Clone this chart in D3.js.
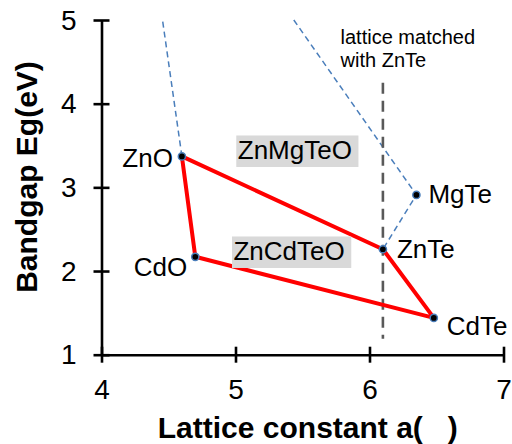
<!DOCTYPE html>
<html>
<head>
<meta charset="utf-8">
<script src="https://cdn.jsdelivr.net/npm/d3@7"></script>
<style>
  html, body { margin: 0; padding: 0; background: #fff; }
  svg { display: block; font-family: "Liberation Sans", Arial, sans-serif; }
</style>
</head>
<body>
<svg id="chart" width="512" height="444"></svg>
<script>
// Binary end-point compounds: lattice constant a (Å) and bandgap Eg (eV)
const compounds = ["ZnO", "CdO", "CdTe", "ZnTe", "MgTe"];
const latticeA  = [4.60, 4.70, 6.48, 6.10, 6.35];
const bandgap   = [3.37, 2.17, 1.44, 2.26, 2.91];

// Quaternary region outline (closed polygon through the binaries)
const outlineOrder = ["ZnO", "CdO", "CdTe", "ZnTe", "ZnO"];

// Dashed guide lines
const guideOneA  = [4.457, 4.60];
const guideOneEg = [4.98, 3.37];
const guideTwoA  = [5.435, 6.35, 6.10];
const guideTwoEg = [5.00, 2.91, 2.26];

// Lattice-matched line at ZnTe
const matchA = 6.10;
const matchEgRange = [4.25, 1.19];

// Tick values
const xTicks = [4, 5, 6, 7];
const yTicks = [1, 2, 3, 4, 5];

// Region labels
const regionNames = ["ZnMgTeO", "ZnCdTeO"];
const regionA     = [5.017, 4.985];
const regionEg    = [3.339, 2.132];

const svg = d3.select("#chart");
const x = d3.scaleLinear().domain([4, 7]).range([101.5, 503.5]);
const y = d3.scaleLinear().domain([1, 5]).range([354.7, 20]);

const pts = compounds.map((c, i) => ({ name: c, a: latticeA[i], eg: bandgap[i] }));
const byName = Object.fromEntries(pts.map(p => [p.name, p]));

// Axes with ticks crossing the axis line
const gx = svg.append("g").attr("transform", `translate(0,${y(1)})`)
  .call(d3.axisBottom(x).tickValues(xTicks).tickFormat(d3.format("d")).tickSize(0));
const gy = svg.append("g").attr("transform", `translate(${x(4)},0)`)
  .call(d3.axisLeft(y).tickValues(yTicks).tickFormat(d3.format("d")).tickSize(0));

[gx, gy].forEach(g => {
  g.select(".domain").attr("stroke", "#000").attr("stroke-width", 2.6);
  g.selectAll(".tick text").attr("fill", "#000").attr("font-size", 28)
    .attr("font-family", "Liberation Sans, Arial, sans-serif");
});
gx.selectAll(".tick line").attr("y1", -8).attr("y2", 8).attr("stroke", "#000").attr("stroke-width", 2.6);
gy.selectAll(".tick line").attr("x1", -8).attr("x2", 8).attr("stroke", "#000").attr("stroke-width", 2.6);
gx.selectAll(".tick text").attr("y", 44.6).attr("dy", 0);
gy.selectAll(".tick text").attr("x", -25).attr("dy", 9);

// Axis titles
svg.append("text")
  .attr("x", 307.8).attr("y", 438.3)
  .attr("text-anchor", "middle")
  .attr("font-size", 30).attr("font-weight", "bold").attr("fill", "#000")
  .text("Lattice constant a(\u00A0\u00A0\u00A0)");

svg.append("text")
  .attr("transform", "translate(36.5,177) rotate(-90)")
  .attr("text-anchor", "middle")
  .attr("font-size", 30).attr("font-weight", "bold").attr("fill", "#000")
  .text("Bandgap Eg(eV)");

const line = d3.line().x(d => x(d[0])).y(d => y(d[1]));

// Blue dashed guide lines
[[guideOneA, guideOneEg], [guideTwoA, guideTwoEg]].forEach(([as, egs]) => {
  svg.append("path")
    .attr("d", line(as.map((a, i) => [a, egs[i]])))
    .attr("fill", "none").attr("stroke", "#4a7ebb")
    .attr("stroke-width", 1.5).attr("stroke-dasharray", "6,4");
});

// Lattice-matched vertical line
svg.append("path")
  .attr("d", line(matchEgRange.map(e => [matchA, e])))
  .attr("fill", "none").attr("stroke", "#595959")
  .attr("stroke-width", 2.6).attr("stroke-dasharray", "11,7");

const note = svg.append("text")
  .attr("x", x(5.784)).attr("y", y(4.713))
  .attr("font-size", 20).attr("fill", "#000");
note.append("tspan").attr("x", x(5.784)).text("lattice matched");
note.append("tspan").attr("x", x(5.784)).attr("dy", 23).text("with ZnTe");

// Red region outline
svg.append("path")
  .attr("d", line(outlineOrder.map(n => [byName[n].a, byName[n].eg])))
  .attr("fill", "none").attr("stroke", "#ff0000")
  .attr("stroke-width", 4).attr("stroke-linejoin", "round");

// Markers
svg.selectAll("circle.pt").data(pts).join("circle")
  .attr("class", "pt")
  .attr("cx", d => x(d.a)).attr("cy", d => y(d.eg))
  .attr("r", 3.6)
  .attr("fill", "#000").attr("stroke", "#4a7ebb").attr("stroke-width", 1.5);

// Point labels
const labelPos = {
  ZnO:  { dx: -9,  dy: 11, anchor: "end" },
  CdO:  { dx: -8,  dy: 19, anchor: "end" },
  CdTe: { dx: 13,  dy: 17, anchor: "start" },
  ZnTe: { dx: 14,  dy: 9,  anchor: "start" },
  MgTe: { dx: 12,  dy: 8,  anchor: "start" }
};
svg.selectAll("text.pl").data(pts).join("text")
  .attr("class", "pl")
  .attr("x", d => x(d.a) + labelPos[d.name].dx)
  .attr("y", d => y(d.eg) + labelPos[d.name].dy)
  .attr("text-anchor", d => labelPos[d.name].anchor)
  .attr("font-size", 26).attr("fill", "#000")
  .text(d => d.name);

// Region labels on grey boxes
regionNames.forEach((name, i) => {
  const g = svg.append("g");
  const rect = g.append("rect").attr("fill", "#d9d9d9");
  const t = g.append("text")
    .attr("x", x(regionA[i])).attr("y", y(regionEg[i]))
    .attr("font-size", 26).attr("fill", "#000")
    .text(name);
  const bb = t.node().getBBox();
  rect.attr("x", bb.x - 1.5).attr("y", bb.y + 0.5)
    .attr("width", bb.width + 8).attr("height", bb.height + 1.5);
});
</script>
</body>
</html>
